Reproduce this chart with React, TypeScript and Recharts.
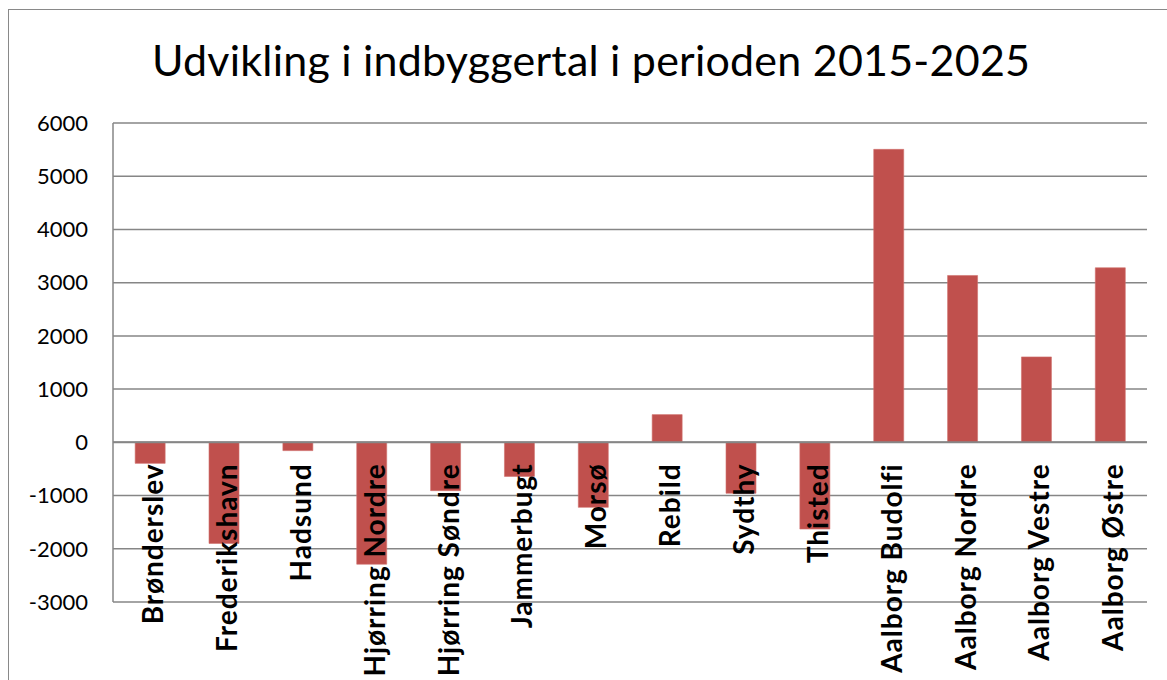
import React from 'react';
import {
  BarChart,
  Bar,
  XAxis,
  YAxis,
  CartesianGrid,
  ReferenceLine,
  LabelList,
} from 'recharts';

const districts = [
  'Brønderslev',
  'Frederikshavn',
  'Hadsund',
  'Hjørring Nordre',
  'Hjørring Søndre',
  'Jammerbugt',
  'Morsø',
  'Rebild',
  'Sydthy',
  'Thisted',
  'Aalborg Budolfi',
  'Aalborg Nordre',
  'Aalborg Vestre',
  'Aalborg Østre',
];

const change = [-395, -1900, -156, -2290, -908, -640, -1222, 521, -958, -1630, 5505, 3135, 1605, 3280];

const yTicks = [-3000, -2000, -1000, 0, 1000, 2000, 3000, 4000, 5000, 6000];

const title = 'Udvikling i indbyggertal i perioden 2015-2025';

const data = districts.map((name, i) => ({ name, value: change[i] }));

const GRID = '#868686';
const BAR = '#C0504D';

// category name drawn vertically, starting just under the zero line
const CategoryLabel = (props: any) => {
  const { x, y, width, height, value, index } = props;
  const top = Math.min(y, y + height);
  const bottom = Math.max(y, y + height);
  const zeroY = change[index] >= 0 ? bottom : top;
  const cx = x + width / 2 + 13;
  const ty = zeroY + 21;
  return (
    <text
      x={cx}
      y={ty}
      transform={`rotate(-90, ${cx}, ${ty})`}
      textAnchor="end"
      fontFamily="Lato, 'Open Sans', sans-serif"
      fontWeight={700}
      fontSize={28}
      letterSpacing={1}
      fill="#000"
    >
      {value}
    </text>
  );
};

export default function App() {
  return (
    <div style={{ position: 'absolute', left: 0, top: 0, width: 1167, height: 680, overflow: 'hidden', background: '#fff' }}>
      <div
        style={{
          position: 'absolute',
          left: 8,
          top: 9,
          width: 1200,
          height: 720,
          border: '1px solid #898989',
        }}
      />
      <svg style={{ position: 'absolute', left: 0, top: 0 }} width={1167} height={100}>
        <text
          x={591}
          y={76}
          textAnchor="middle"
          fontFamily="Lato, 'Open Sans', sans-serif"
          fontSize={43}
          fill="#000"
          textLength={878}
          lengthAdjust="spacing"
        >
          {title}
        </text>
      </svg>
      <div style={{ position: 'absolute', left: 0, top: 0 }}>
        <BarChart
          width={1167}
          height={680}
          data={data}
          margin={{ top: 123, right: 20, bottom: 78, left: 0 }}
          barCategoryGap="30%"
        >
          <CartesianGrid vertical={false} stroke={GRID} strokeWidth={1.5} />
          <XAxis dataKey="name" hide />
          <YAxis
            domain={[-3000, 6000]}
            ticks={yTicks}
            interval={0}
            width={113}
            tickSize={0}
            tickMargin={25}
            axisLine={{ stroke: GRID, strokeWidth: 1.5 }}
            tickLine={false}
            tick={{ fill: '#000', fontSize: 22, fontFamily: "Lato, 'Open Sans', sans-serif" }}
          />
          <Bar dataKey="value" fill={BAR} stroke="#d0706d" strokeWidth={0.6} isAnimationActive={false}>
            <LabelList dataKey="name" content={CategoryLabel} />
          </Bar>
          <ReferenceLine y={0} stroke={GRID} strokeWidth={2} />
        </BarChart>
      </div>
    </div>
  );
}
